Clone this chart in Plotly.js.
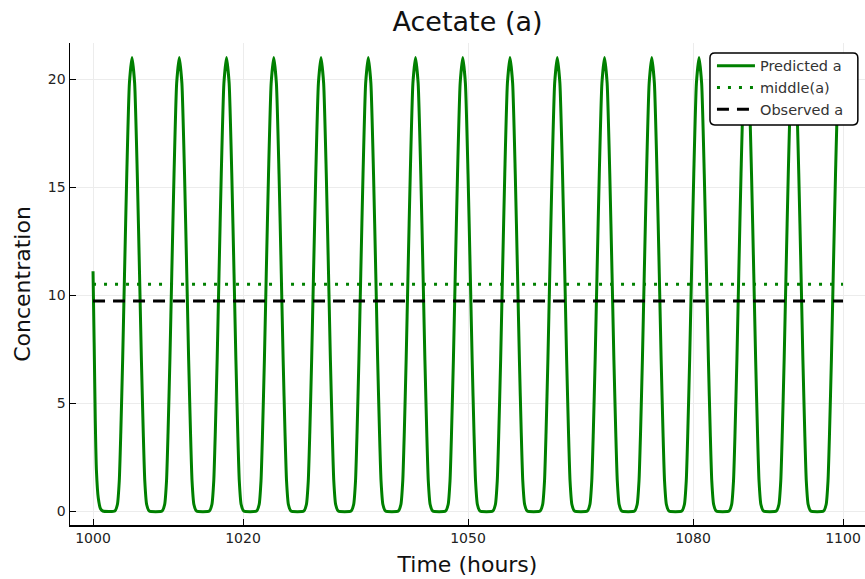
<!DOCTYPE html>
<html>
<head>
<meta charset="utf-8">
<script src="https://cdn.plot.ly/plotly-3.0.1.min.js"></script>
<style>html,body{margin:0;padding:0;background:#fff;}#chart{width:865px;height:579px;}</style>
</head>
<body>
<div id="chart"></div>
<script>
// Values
// initial transient (hours, concentration)
var startTimes  = [1000, 1000.15, 1000.3, 1000.45, 1000.7, 1001.0, 1001.3];
var startValues = [11.1, 7.8, 4.2, 1.9, 0.6, 0.1, 0];
// times of each oscillation peak (hours)
var peakTimes = [1005.2, 1011.5, 1017.8, 1024.1, 1030.4, 1036.7, 1043.0, 1049.3,
                 1055.6, 1061.9, 1068.2, 1074.5, 1080.8, 1087.1, 1093.4, 1099.7];
// shape of one pulse read around a peak: offset from the peak (hours) and concentration
var pulseOffsets = [-2.3, -1.95, -1.7, -1.5, -1.25, -1.0, -0.7, -0.35, 0, 0.35, 0.7, 1.0, 1.25, 1.5, 1.7, 1.95, 2.3];
var pulseValues  = [0, 0.3, 1.4, 3.6, 7.0, 11.0, 15.6, 19.8, 21.0, 19.8, 15.6, 11.0, 7.0, 3.6, 1.4, 0.3, 0];
var middleValue = 10.5;
var observedValue = 9.72;
var timeRange = [1000, 1100];
var xTickVals = [1000, 1020, 1050, 1080, 1100];
var yTickVals = [0, 5, 10, 15, 20];

var tPred = startTimes.slice();
var aPred = startValues.slice();
peakTimes.forEach(function (p) {
  pulseOffsets.forEach(function (o, i) {
    var t = p + o;
    if (t <= timeRange[1]) { tPred.push(t); aPred.push(pulseValues[i]); }
  });
});

var traces = [
  {x: tPred, y: aPred, type: 'scatter', mode: 'lines', name: 'Predicted a',
   line: {color: '#008000', width: 3, shape: 'spline', smoothing: 0.5}},
  {x: timeRange, y: [middleValue, middleValue], type: 'scatter', mode: 'lines', name: 'middle(a)',
   line: {color: '#008000', width: 3, dash: '3px,8px'}},
  {x: timeRange, y: [observedValue, observedValue], type: 'scatter', mode: 'lines', name: 'Observed a',
   line: {color: '#000000', width: 3, dash: '12px,8px'}}
];

// legend frame (rounded box) in paper coordinates
var bx0 = 0.805, bx1 = 0.991, by0 = 0.830, by1 = 0.979, rx = 0.006, ry = 0.010;
var framePath = 'M ' + (bx0 + rx) + ' ' + by1 +
  ' L ' + (bx1 - rx) + ' ' + by1 + ' Q ' + bx1 + ' ' + by1 + ' ' + bx1 + ' ' + (by1 - ry) +
  ' L ' + bx1 + ' ' + (by0 + ry) + ' Q ' + bx1 + ' ' + by0 + ' ' + (bx1 - rx) + ' ' + by0 +
  ' L ' + (bx0 + rx) + ' ' + by0 + ' Q ' + bx0 + ' ' + by0 + ' ' + bx0 + ' ' + (by0 + ry) +
  ' L ' + bx0 + ' ' + (by1 - ry) + ' Q ' + bx0 + ' ' + by1 + ' ' + (bx0 + rx) + ' ' + by1 + ' Z';

var layout = {
  width: 865, height: 579,
  margin: {l: 70, r: 0, t: 43, b: 54, pad: 0},
  paper_bgcolor: '#fff', plot_bgcolor: '#fff',
  font: {family: 'DejaVu Sans, sans-serif', color: '#222', size: 14},
  title: {text: 'Acetate (a)', font: {size: 27, color: '#111'}, x: 0.5405, xanchor: 'center', y: 0.962, yanchor: 'middle'},
  showlegend: true,
  legend: {x: 0.8075, xanchor: 'left', y: 0.986, yanchor: 'top', bgcolor: 'rgba(0,0,0,0)',
           borderwidth: 0, font: {size: 14.5, color: '#333'},
           tracegroupgap: 0, itemwidth: 38},
  shapes: [{type: 'path', xref: 'paper', yref: 'paper', path: framePath, layer: 'above',
            fillcolor: '#fff', line: {color: '#000', width: 1.5}}],
  xaxis: {
    range: [996.93, 1102.93], tickvals: xTickVals, ticktext: xTickVals.map(String),
    ticks: 'inside', ticklen: 6, tickcolor: '#000', tickwidth: 1,
    showline: true, linecolor: '#000', linewidth: 1.5, mirror: false,
    showgrid: true, gridcolor: '#ececec', gridwidth: 1, zeroline: false,
    tickfont: {size: 14, color: '#222'},
    title: {text: 'Time (hours)', font: {size: 22, color: '#111'}, standoff: 11}
  },
  yaxis: {
    range: [-0.648, 21.667], tickvals: yTickVals, ticktext: yTickVals.map(String),
    ticks: 'inside', ticklen: 6, tickcolor: '#000', tickwidth: 1,
    showline: true, linecolor: '#000', linewidth: 1.5, mirror: false,
    showgrid: true, gridcolor: '#ececec', gridwidth: 1, zeroline: false,
    tickfont: {size: 14, color: '#222'},
    title: {text: 'Concentration', font: {size: 22, color: '#111'}, standoff: 11}
  }
};

Plotly.newPlot('chart', traces, layout, {displayModeBar: false, staticPlot: true});
</script>
</body>
</html>
